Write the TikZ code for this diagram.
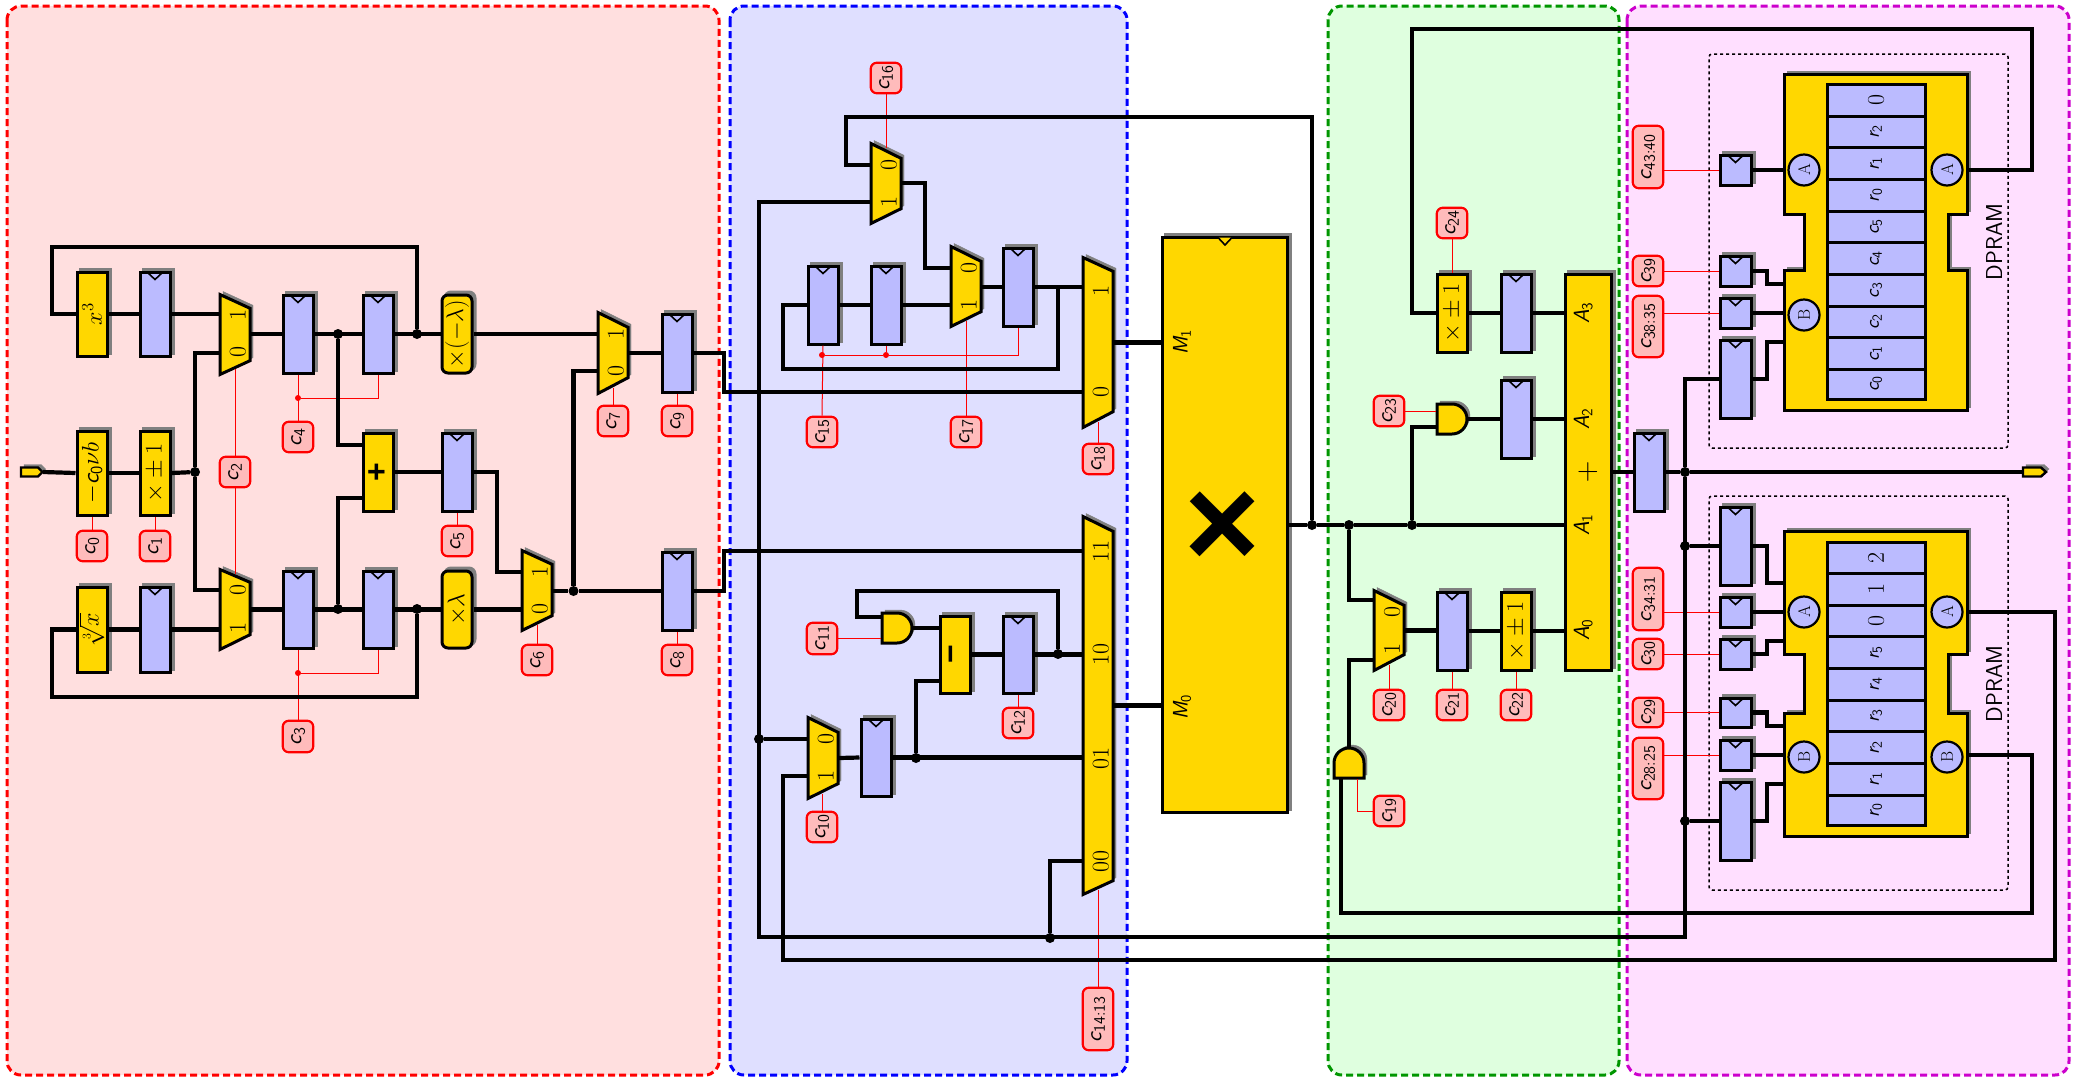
\RequirePackage{fix-cm}
\documentclass[tikz,border=0pt]{standalone}
\usepackage{amsmath,graphicx}
\usepackage[no-math]{fontspec}
\newfontfamily\liberfont{Liberation Sans}
\usetikzlibrary{shadows,calc}
\definecolor{ygold}{RGB}{255,215,0}
\definecolor{rblue}{RGB}{187,187,255}
\definecolor{cpink}{RGB}{255,187,187}
\definecolor{shgray}{RGB}{128,128,128}
\definecolor{pred}{RGB}{255,223,223}
\definecolor{pblue}{RGB}{223,223,255}
\definecolor{pgreen}{RGB}{223,255,223}
\definecolor{pmag}{RGB}{255,223,255}
\definecolor{dgreen}{RGB}{0,150,0}
\definecolor{dmag}{RGB}{204,0,204}
\newcommand{\lmfs}{\fontsize{24}{26}\selectfont}
\newcommand{\ms}[2]{{\sffamily\itshape #1}$_{\mathsf{#2}}$}
\tikzset{
  shad/.style={general shadow={shadow xshift=3pt,shadow yshift=3pt,fill=shgray,draw=shgray}},
  boxbase/.style={draw=black,line width=3pt,inner sep=0pt,align=center,font=\lmfs,shad},
  logicb/.style={boxbase,fill=ygold},
  logicr/.style={boxbase,fill=ygold,rounded corners=6pt},
  regb/.style={boxbase,fill=rblue},
  ctrlb/.style={draw=red,line width=2.2pt,fill=cpink,rounded corners=6pt,inner sep=0pt,font=\fontsize{23}{25}\selectfont},
  cellb/.style={draw=black,line width=3pt,fill=rblue,inner sep=0pt,font=\fontsize{20}{22}\selectfont},
  portc/.style={circle,draw=black,line width=2.2pt,fill=rblue,inner sep=0pt,minimum size=31pt,font=\fontsize{17}{18}\selectfont},
  muxpath/.style={draw=black,line width=3pt,fill=ygold,line join=miter,shad},
  ghost/.style={draw=none,fill=none,inner sep=0pt,outer sep=0pt},
  muxlab/.style={inner sep=0pt,font=\lmfs},
  wire/.style={draw=black,line width=4.2pt,line join=miter},
  ctl/.style={draw=red,line width=1pt},
  clkl/.style={draw=black,line width=1.6pt},
  dotb/.style={circle,fill=black,inner sep=0pt,minimum size=10pt},
  dotr/.style={circle,fill=red,inner sep=0pt,minimum size=6pt},
  panel/.style={line width=3pt,rounded corners=14pt,dash pattern=on 7pt off 4pt},
  dottedbox/.style={draw=black,line width=1.5pt,dash pattern=on 3pt off 3pt,rounded corners=3pt},
  txt/.style={inner sep=0pt,font=\fontsize{22}{24}\selectfont},
}
% generic box: style,name,x1,y1,x2,y2,text
\newcommand{\bx}[7]{%
  \pgfmathsetmacro\bw{#5-#3-2}\pgfmathsetmacro\bh{#6-#4-2}%
  \pgfmathsetmacro\cx{(#3+#5)/2}\pgfmathsetmacro\cy{(#4+#6)/2}%
  \node[#1,minimum width=\bw pt,minimum height=\bh pt] (#2) at (\cx,\cy) {\rotatebox{90}{#7}};}
\newcommand{\reg}[5]{%
  \bx{regb}{#1}{#2}{#3}{#4}{#5}{}%
  \draw[clkl] ($(#1.north)+(-8,1.5)$) -- ($(#1.north)+(0,9)$) -- ($(#1.north)+(8,1.5)$);}
\newcommand{\cb}[6]{%
  \pgfmathsetmacro\bw{#4-#2-1.5}\pgfmathsetmacro\bh{#5-#3-1.5}%
  \pgfmathsetmacro\cx{(#2+#4)/2}\pgfmathsetmacro\cy{(#3+#5)/2}%
  \node[ctrlb,minimum width=\bw pt,minimum height=\bh pt] (#1) at (\cx,\cy) {\rotatebox{90}{\ms{c}{#6}}};}
% mux: name,x1,ytl,x2,ytr,ybr,ybl
\newcommand{\mux}[7]{%
  \pgfmathsetmacro\xa{#2+1}\pgfmathsetmacro\xb{#4-1}%
  \pgfmathsetmacro\ya{#3+2.5}\pgfmathsetmacro\yb{#5+1.3}\pgfmathsetmacro\yc{#6-1.3}\pgfmathsetmacro\yd{#7-2.5}%
  \path[muxpath] (\xa,\ya) -- (\xb,\yb) -- (\xb,\yc) -- (\xa,\yd) -- cycle;
  \pgfmathsetmacro\bw{#4-#2}\pgfmathsetmacro\bh{#7-#3}%
  \pgfmathsetmacro\cx{(#2+#4)/2}\pgfmathsetmacro\cy{(#3+#7)/2}%
  \node[ghost,minimum width=\bw pt,minimum height=\bh pt] (#1) at (\cx,\cy) {};}
\newcommand{\mlab}[3]{\node[muxlab] (#1) at #2 {\rotatebox{90}{#3}};}
\newcommand{\cell}[4]{\bxcell{#1}{#2}{#3}{#4}}
\newcommand{\bxcell}[4]{%
  \pgfmathsetmacro\bh{#3-#2}\pgfmathsetmacro\cy{(#2+#3)/2}%
  \node[cellb,minimum width=98pt,minimum height=\bh pt] (#1) at (1876,\cy) {\rotatebox{90}{#4}};}
\newcommand{\bigd}[1]{{\lmfs$#1$}}
% dpram shape: name, top, notch top, notch bottom, bottom
\newcommand{\dpshape}[5]{%
  \path[muxpath] (1784,#2) -- (1967,#2) -- (1967,#3) -- (1948,#3) -- (1948,#4) -- (1967,#4) -- (1967,#5) -- (1784,#5) -- (1784,#4) -- (1804,#4) -- (1804,#3) -- (1784,#3) -- cycle;
  \pgfmathsetmacro\bh{#5-#2}\pgfmathsetmacro\cy{(#2+#5)/2}%
  \node[ghost,minimum width=185pt,minimum height=\bh pt] (#1) at (1875.5,\cy) {};}
\begin{document}
\begin{tikzpicture}[x=1pt,y=-1pt]
\useasboundingbox (0,0) rectangle (2083,1079);
\fill[white] (0,0) rectangle (2083,1079);
%% panels
\path[panel,draw=red,fill=pred] (7,6) rectangle (719,1075);
\path[panel,draw=blue,fill=pblue] (730,6) rectangle (1127,1075);
\path[panel,draw=dgreen,fill=pgreen] (1328,6) rectangle (1619,1075);
\path[panel,draw=dmag,fill=pmag] (1627,6) rectangle (2069,1075);
%% dotted DPRAM frames
\node[ghost,dottedbox,minimum width=299pt,minimum height=394pt] (frameU) at (1858.5,251) {};
\node[ghost,dottedbox,minimum width=299pt,minimum height=394pt] (frameL) at (1858.5,693) {};
\node[txt,font=\fontsize{23}{25}\selectfont\sffamily] (dpU) at (1994,242) {\rotatebox{90}{DPRAM}};
\node[txt,font=\fontsize{23}{25}\selectfont\sffamily] (dpL) at (1994,684) {\rotatebox{90}{DPRAM}};

%% tags
\path[muxpath,line width=2.4pt] (21,467.5) -- (38,467.5) -- (42.5,472) -- (38,476.5) -- (21,476.5) -- cycle;
\coordinate (tagin) at (43,472);
\path[muxpath,line width=2.4pt] (2023,467.5) -- (2041,467.5) -- (2046,472) -- (2041,476.5) -- (2023,476.5) -- cycle;
\coordinate (tagout) at (2023,472);

%% left panel
\bx{logicb}{fx}{76}{271}{108}{357}{$x^3$}
\reg{ra}{139}{271}{171}{357}
\mux{mb}{219}{292}{251}{307}{362}{377}
\mlab{mb1}{(238,315)}{$1$}\mlab{mb0}{(238,352)}{$0$}
\reg{rb}{282}{294}{314}{374}
\reg{rc}{362}{294}{394}{374}
\bx{logicr}{fnl}{441}{294}{473}{374}{$\times(-\lambda)$}
\bx{logicb}{fneg}{76}{430}{108}{516}{$-$\ms{c}{0}$\nu b$}
\bx{logicb}{fpm}{139}{430}{171}{516}{$\times\pm 1$}
\bx{logicb}{fadd}{362}{432}{394}{512}{{\liberfont\bfseries\fontsize{32}{32}\selectfont +}}
\reg{rd}{441}{432}{473}{512}
\bx{logicb}{frt}{76}{586}{108}{673}{$\sqrt[3]{x}$}
\reg{re}{139}{586}{171}{673}
\mux{mc}{219}{567}{251}{581}{636}{652}
\mlab{mc0}{(238,590)}{$0$}\mlab{mc1}{(238,628)}{$1$}
\reg{rf}{282}{570}{314}{649}
\reg{rg}{362}{570}{394}{649}
\bx{logicr}{fl}{441}{570}{473}{649}{$\times\lambda$}
\mux{md}{521}{548}{553}{563}{617}{633}
\mlab{md1}{(540,572)}{$1$}\mlab{md0}{(540,609)}{$0$}
\mux{me}{597}{310}{629}{326}{379}{396}
\mlab{me1}{(616,334)}{$1$}\mlab{me0}{(616,371)}{$0$}
\reg{rh}{661}{313}{693}{393}
\reg{ri}{661}{551}{693}{631}
\cb{c0}{76}{530}{108}{562}{0}
\cb{c1}{139}{530}{171}{562}{1}
\cb{c2}{219}{456}{251}{488}{2}
\cb{c4}{282}{421}{314}{453}{4}
\cb{c5}{441}{525}{473}{557}{5}
\cb{c3}{282}{720}{314}{753}{3}
\cb{c6}{521}{644}{553}{676}{6}
\cb{c7}{597}{405}{629}{437}{7}
\cb{c8}{661}{644}{693}{676}{8}
\cb{c9}{661}{405}{693}{437}{9}

%% blue panel
\mux{mf}{870}{141}{902}{157}{210}{226}
\mlab{mf0}{(889,165)}{$0$}\mlab{mf1}{(889,202)}{$1$}
\reg{rj}{807}{265}{839}{345}
\reg{rk}{870}{265}{902}{345}
\mux{mg}{950}{244}{982}{260}{313}{329}
\mlab{mg0}{(969,268)}{$0$}\mlab{mg1}{(969,305)}{$1$}
\reg{rl}{1002}{247}{1034}{327}
\mux{mh}{1082}{255}{1114}{270}{413}{430}
\mlab{mh1}{(1101,291)}{$1$}\mlab{mh0}{(1101,392)}{$0$}
\mux{mi}{1082}{514}{1114}{530}{882}{897}
\mlab{mi3}{(1101,551)}{$11$}\mlab{mi2}{(1101,654)}{$10$}\mlab{mi1}{(1101,758)}{$01$}\mlab{mi0}{(1101,861)}{$00$}
\mux{mj}{807}{715}{839}{731}{785}{801}
\mlab{mj0}{(826,739)}{$0$}\mlab{mj1}{(826,776)}{$1$}
\reg{rm}{860}{718}{892}{797}
\bx{logicb}{fsub}{939}{615}{971}{694}{{\liberfont\bfseries\fontsize{32}{32}\selectfont −}}
\reg{rn}{1002}{615}{1034}{694}
\path[muxpath] (882,613) -- (897,613) arc[start angle=90,end angle=-90,radius=15pt] -- (882,643) -- cycle;
\node[ghost,minimum width=32pt,minimum height=32pt] (ga) at (897,628) {};
\cb{c10}{806}{811}{838}{843}{10}
\cb{c11}{806}{622}{838}{655}{11}
\cb{c12}{1002}{707}{1034}{739}{12}
\cb{c13}{1082}{987}{1114}{1051}{14:13}
\cb{c15}{806}{416}{838}{448}{15}
\cb{c16}{870}{62}{902}{94}{16}
\cb{c17}{950}{416}{982}{448}{17}
\cb{c18}{1082}{443}{1114}{475}{18}

%% multiplier
\bx{logicb}{fmul}{1161}{236}{1288}{813}{}
\draw[clkl,fill=ygold] (1218,237.5) -- (1225,245) -- (1232,237.5);
\node[txt,font=\fontsize{21}{23}\selectfont] (lm1) at (1182,342) {\rotatebox{90}{\ms{M}{1}}};
\node[txt,font=\fontsize{21}{23}\selectfont] (lm0) at (1182,707) {\rotatebox{90}{\ms{M}{0}}};
\node[txt,font=\liberfont\bfseries\fontsize{130}{130}\selectfont] (lmx) at (1222,530) {×};

%% green panel
\bx{logicb}{fpma}{1436}{273}{1468}{353}{$\times\pm 1$}
\reg{ro}{1500}{273}{1532}{353}
\path[muxpath] (1437,404) -- (1452,404) arc[start angle=90,end angle=-90,radius=15pt] -- (1437,434) -- cycle;
\node[ghost,minimum width=32pt,minimum height=32pt] (gb) at (1452,419) {};
\reg{rp}{1500}{379}{1532}{459}
\bx{logicb}{fsum}{1564}{273}{1612}{671}{}
\node[txt] (la3) at (1583,313) {\rotatebox{90}{\ms{A}{3}}};
\node[txt] (la2) at (1583,419) {\rotatebox{90}{\ms{A}{2}}};
\node[txt] (la1) at (1583,525) {\rotatebox{90}{\ms{A}{1}}};
\node[txt] (la0) at (1583,630) {\rotatebox{90}{\ms{A}{0}}};
\node[txt,font=\fontsize{30}{30}\selectfont] (lsum) at (1588,472) {$+$};
\mux{mk}{1373}{588}{1405}{604}{656}{673}
\mlab{mk0}{(1392,612)}{$0$}\mlab{mk1}{(1392,649)}{$1$}
\reg{rq}{1436}{591}{1468}{671}
\bx{logicb}{fpmb}{1500}{591}{1532}{671}{$\times\pm 1$}
\path[muxpath] (1334,778) -- (1334,763) arc[start angle=180,end angle=0,radius=15pt] -- (1364,778) -- cycle;
\node[ghost,minimum width=32pt,minimum height=32pt] (gc) at (1349,763) {};
\cb{c19}{1373}{795}{1405}{827}{19}
\cb{c20}{1373}{689}{1405}{721}{20}
\cb{c21}{1436}{689}{1468}{721}{21}
\cb{c22}{1500}{689}{1532}{721}{22}
\cb{c23}{1373}{395}{1405}{427}{23}
\cb{c24}{1436}{207}{1468}{239}{24}

%% magenta panel
\reg{rr}{1633}{432}{1665}{512}
%% upper DPRAM
\dpshape{dpu}{74}{214}{270}{410}
\cell{ua}{84.3}{116}{\bigd{0}}
\cell{ub}{116}{147.7}{\ms{r}{2}}
\cell{uc}{147.7}{179.4}{\ms{r}{1}}
\cell{ud}{179.4}{211.1}{\ms{r}{0}}
\cell{ue}{211.1}{242.8}{\ms{c}{5}}
\cell{uf}{242.8}{274.5}{\ms{c}{4}}
\cell{ug}{274.5}{306.2}{\ms{c}{3}}
\cell{uh}{306.2}{337.9}{\ms{c}{2}}
\cell{ui}{337.9}{369.2}{\ms{c}{1}}
\cell{uj}{369.2}{399}{\ms{c}{0}}
\node[portc] (pua) at (1804,170) {\rotatebox{90}{A}};
\node[portc] (pub) at (1804,315) {\rotatebox{90}{B}};
\node[portc] (puc) at (1947,170) {\rotatebox{90}{A}};
\coordinate (dpuAo) at (1968,170);
\reg{sa}{1719}{154}{1752}{186}
\reg{sb}{1719}{255}{1752}{287}
\reg{sc}{1719}{297}{1752}{329}
\reg{sd}{1719}{339}{1752}{419}
\cb{c4340}{1632}{125}{1664}{189}{43:40}
\cb{c39}{1632}{255}{1664}{287}{39}
\cb{c3835}{1632}{295}{1664}{358}{38:35}
%% lower DPRAM
\dpshape{dpl}{531}{654}{713}{836}
\cell{la}{542}{573.5}{\bigd{2}}
\cell{lb}{573.5}{605}{\bigd{1}}
\cell{lc}{605}{636.7}{\bigd{0}}
\cell{ld}{636.7}{668.4}{\ms{r}{5}}
\cell{le}{668.4}{700}{\ms{r}{4}}
\cell{lf}{700}{731.7}{\ms{r}{3}}
\cell{lg}{731.7}{763.4}{\ms{r}{2}}
\cell{lh}{763.4}{795}{\ms{r}{1}}
\cell{li}{795}{825.5}{\ms{r}{0}}
\node[portc] (pla) at (1804,612) {\rotatebox{90}{A}};
\node[portc] (plb) at (1804,757) {\rotatebox{90}{B}};
\node[portc] (plc) at (1947,612) {\rotatebox{90}{A}};
\node[portc] (pld) at (1947,757) {\rotatebox{90}{B}};
\coordinate (dplAo) at (1968,612);
\coordinate (dplBo) at (1968,755);
\reg{ta}{1719}{506}{1752}{586}
\reg{tb}{1719}{596}{1752}{628}
\reg{tc}{1719}{638}{1752}{670}
\reg{td}{1719}{697}{1752}{728}
\reg{te}{1719}{739}{1752}{771}
\reg{tf}{1719}{781}{1752}{861}
\cb{c3431}{1632}{567}{1664}{631}{34:31}
\cb{c30}{1632}{638}{1664}{670}{30}
\cb{c29}{1632}{697}{1664}{728}{29}
\cb{c2825}{1632}{737}{1664}{800}{28:25}

%% red control lines
\node[dotr] (da) at (298,398) {};
\node[dotr] (db) at (298,673) {};
\node[dotr] (dc) at (822,355) {};
\node[dotr] (dd) at (886,355) {};
\draw[ctl] (c2.north) -- (235,369);
\draw[ctl] (c2.south) -- (235,574);
\draw[ctl] (c0.north) -- (fneg.south);
\draw[ctl] (c1.north) -- (fpm.south);
\draw[ctl] (rb.south) -- (c4.north);
\draw[ctl] (da) -| (rc.south);
\draw[ctl] (c5.north) -- (rd.south);
\draw[ctl] (rf.south) -- (c3.north);
\draw[ctl] (db) -| (rg.south);
\draw[ctl] (c6.north) -- (537,625);
\draw[ctl] (c7.north) -- (613,388);
\draw[ctl] (c8.north) -- (ri.south);
\draw[ctl] (c9.north) -- (rh.south);
\draw[ctl] (c16.south) -- (886,148);
\draw[ctl] (rj.south) -- (c15.north);
\draw[ctl] (rk.south) -- (dd);
\draw[ctl] (dc) -- (dd) -| (rl.south);
\draw[ctl] (c17.north) -- (966,321);
\draw[ctl] (c18.north) -- (1098,422);
\draw[ctl] (c10.north) -- (822,794);
\draw[ctl] (c11.east) -- (ga.west |- c11.east);
\draw[ctl] (c12.north) -- (rn.south);
\draw[ctl] (c13.north) -- (1098,890);
\draw[ctl] (c24.south) -- (fpma.north);
\draw[ctl] (c23.east) -- (gb.west |- c23.east);
\draw[ctl] (c20.north) -- (1389,665);
\draw[ctl] (c21.north) -- (rq.south);
\draw[ctl] (c22.north) -- (fpmb.south);
\draw[ctl] (c19.west) -| (1357,779);
\draw[ctl] (c4340.east |- sa.west) -- (sa.west);
\draw[ctl] (c39.east |- sb.west) -- (sb.west);
\draw[ctl] (c3835.east |- sc.west) -- (sc.west);
\draw[ctl] (c3431.east |- tb.west) -- (tb.west);
\draw[ctl] (c30.east |- tc.west) -- (tc.west);
\draw[ctl] (c29.east |- td.west) -- (td.west);
\draw[ctl] (c2825.east |- te.west) -- (te.west);

%% junctions
\node[dotb] (ja) at (195,472) {};
\node[dotb] (jb) at (338,334) {};
\node[dotb] (jc) at (417,334) {};
\node[dotb] (jd) at (338,609) {};
\node[dotb] (je) at (417,609) {};
\node[dotb] (jf) at (573.5,591) {};
\node[dotb] (jg) at (759,739) {};
\node[dotb] (jh) at (916,758) {};
\node[dotb] (ji) at (1058,654) {};
\node[dotb] (jj) at (1050,938) {};
\node[dotb] (jk) at (1312,525) {};
\node[dotb] (jl) at (1349,525) {};
\node[dotb] (jm) at (1412,525) {};
\node[dotb] (jn) at (1685,472) {};
\node[dotb] (jo) at (1685,546) {};
\node[dotb] (jp) at (1685,821) {};

%% wires - left
\draw[wire] (tagin) -- (fneg.west);
\draw[wire] (fneg.east) -- (fpm.west);
\draw[wire] (fpm.east) -- (ja);
\draw[wire] (ja) |- (mb.west |- 195,353);
\draw[wire] (ja) |- (mc.west |- 195,590);
\draw[wire] (fx.east) -- (ra.west);
\draw[wire] (ra.east) -- (mb.west |- ra.east);
\draw[wire] (mb.east |- rb.west) -- (rb.west);
\draw[wire] (rb.east) -- (rc.west);
\draw[wire] (rc.east) -- (fnl.west);
\draw[wire] (jc) -- (417,247) -- (52,247) |- (fx.west);
\draw[wire] (jb) |- (fadd.west |- 338,445);
\draw[wire] (jd) |- (fadd.west |- 338,498);
\draw[wire] (fadd.east) -- (rd.west);
\draw[wire] (rd.east) -| (497,572) -- (md.west |- 497,572);
\draw[wire] (fnl.east) -- (me.west |- fnl.east);
\draw[wire] (frt.east) -- (re.west);
\draw[wire] (re.east) -- (mc.west |- re.east);
\draw[wire] (mc.east |- rf.west) -- (rf.west);
\draw[wire] (rf.east) -- (rg.west);
\draw[wire] (rg.east) -- (fl.west);
\draw[wire] (je) -- (417,697) -- (52,697) |- (frt.west);
\draw[wire] (fl.east) -- (md.west |- fl.east);
\draw[wire] (md.east |- jf) -- (jf);
\draw[wire] (jf) -- (ri.west);
\draw[wire] (jf) |- (me.west |- 573.5,371);
\draw[wire] (me.east |- rh.west) -- (rh.west);
\draw[wire] (rh.east) -| (724,392) -- (mh.west |- 724,392);
\draw[wire] (ri.east) -| (724,551) -- (mi.west |- 724,551);

%% wires - blue
\draw[wire] (mf.west |- 846,165) -| (846,117) -| (jk);
\draw[wire] (mf.east |- 925,183) -| (925,268) -- (mg.west |- 925,268);
\draw[wire] (rj.east) -- (rk.west);
\draw[wire] (rk.east) -- (mg.west |- rk.east);
\draw[wire] (mg.east |- rl.west) -- (rl.west);
\draw[wire] (rl.east) -- (mh.west |- rl.east);
\draw[wire] (1058,287) -- (1058,369) -- (783,369) |- (rj.west);
\draw[wire] (mh.east) -- (fmul.west |- mh.east);
\draw[wire] (mi.east) -- (fmul.west |- mi.east);
\draw[wire] (ga.east) -- (fsub.west |- ga.east);
\draw[wire] (fsub.east) -- (rn.west);
\draw[wire] (rn.east) -- (mi.west |- rn.east);
\draw[wire] (ji) -- (1058,591) -- (857,591) |- (ga.west |- 857,617);
\draw[wire] (mj.east) -- (rm.west);
\draw[wire] (rm.east) -- (mi.west |- rm.east);
\draw[wire] (jh) |- (fsub.west |- 916,681);
\draw[wire] (jg) -- (mj.west |- jg);
\draw[wire] (mf.west |- 759,202) -| (759,937) -| (jn);
\draw[wire] (jj) |- (mi.west |- 1050,861);
\draw[wire] (mj.west |- 783,776) -| (783,960) -| (2055,612) -- (dplAo);

%% wires - green
\draw[wire] (fmul.east |- jk) -- (jk);
\draw[wire] (jk) -- (jl);
\draw[wire] (jl) -- (jm);
\draw[wire] (jm) -- (fsum.west |- jm);
\draw[wire] (jl) |- (mk.west |- 1349,600);
\draw[wire] (gc.north) |- (mk.west |- 1349,660);
\draw[wire] (jm) |- (gb.west |- 1412,427);
\draw[wire] (gb.east) -- (rp.west);
\draw[wire] (rp.east) -- (fsum.west |- rp.east);
\draw[wire] (fpma.east) -- (ro.west);
\draw[wire] (ro.east) -- (fsum.west |- ro.east);
\draw[wire] (mk.east) -- (rq.west |- mk.east);
\draw[wire] (rq.east) -- (fpmb.west);
\draw[wire] (fpmb.east) -- (fsum.west |- fpmb.east);
\draw[wire] (dpuAo) -| (2032,29) -| (1412,313) -- (fpma.west);
\draw[wire] (dplBo) -| (2032,913) -| (1341,779);

%% wires - magenta
\draw[wire] (fsum.east |- rr.west) -- (rr.west);
\draw[wire] (rr.east) -- (jn);
\draw[wire] (jn) -- (tagout);
\draw[wire] (jn) |- (sd.west);
\draw[wire] (jo) -- (ta.west);
\draw[wire] (jp) -- (tf.west);
\draw[wire] (sa.east) -- (dpu.west |- sa.east);
\draw[wire] (sb.east) -| (1767,284) -- (dpu.west |- 1767,284);
\draw[wire] (sc.east) -- (dpu.west |- sc.east);
\draw[wire] (sd.east) -| (1767,342) -- (dpu.west |- 1767,342);
\draw[wire] (ta.east) -| (1767,583) -- (dpl.west |- 1767,583);
\draw[wire] (tb.east) -- (dpl.west |- tb.east);
\draw[wire] (tc.east) -| (1767,641) -- (dpl.west |- 1767,641);
\draw[wire] (td.east) -| (1767,726) -- (dpl.west |- 1767,726);
\draw[wire] (te.east) -- (dpl.west |- te.east);
\draw[wire] (tf.east) -| (1767,784) -- (dpl.west |- 1767,784);
\end{tikzpicture}
\end{document}
